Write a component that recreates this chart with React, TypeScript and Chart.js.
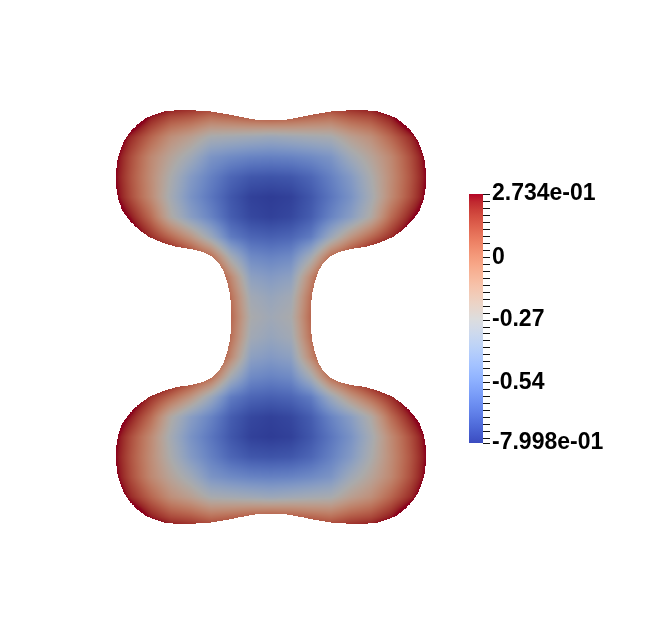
import React, { useEffect, useRef } from "react";
import { Chart, registerables } from "chart.js";

Chart.register(...registerables);

// ---------- data ----------
// Sample grid of the scalar field (domain units, 1 unit ~ 100 px)
const gridX = [-1.6, -1.4, -1.2, -1.0, -0.8, -0.6, -0.4, -0.2, 0, 0.2, 0.4, 0.6, 0.8, 1.0, 1.2, 1.4, 1.6];
const gridY = [2.2, 2.0, 1.8, 1.6, 1.4, 1.2, 1.0, 0.8, 0.6, 0.4, 0.2, 0.0, -0.2, -0.4, -0.6, -0.8, -1.0, -1.2, -1.4, -1.6, -1.8, -2.0, -2.2];
const fieldValues = [
  [0.85, 0.66, 0.54, 0.42, 0.38, 0.35, 0.35, 0.40, 0.40, 0.40, 0.35, 0.35, 0.38, 0.42, 0.54, 0.66, 0.85],
  [0.68, 0.45, 0.25, 0.14, 0.10, 0.03, 0.06, 0.10, 0.12, 0.10, 0.06, 0.03, 0.10, 0.14, 0.25, 0.45, 0.68],
  [0.43, 0.22, 0.06, -0.09, -0.17, -0.28, -0.30, -0.32, -0.34, -0.32, -0.30, -0.28, -0.17, -0.09, 0.06, 0.22, 0.43],
  [0.35, 0.13, -0.06, -0.20, -0.32, -0.47, -0.52, -0.55, -0.56, -0.55, -0.52, -0.47, -0.32, -0.20, -0.06, 0.13, 0.35],
  [0.33, 0.11, -0.08, -0.27, -0.44, -0.56, -0.66, -0.71, -0.72, -0.71, -0.66, -0.56, -0.44, -0.27, -0.08, 0.11, 0.33],
  [0.35, 0.13, -0.07, -0.30, -0.48, -0.60, -0.71, -0.78, -0.795, -0.78, -0.71, -0.60, -0.48, -0.30, -0.07, 0.13, 0.35],
  [0.43, 0.25, 0.04, -0.24, -0.42, -0.55, -0.69, -0.76, -0.78, -0.76, -0.69, -0.55, -0.42, -0.24, 0.04, 0.25, 0.43],
  [0.65, 0.40, 0.21, 0.05, -0.12, -0.34, -0.58, -0.66, -0.68, -0.66, -0.58, -0.34, -0.12, 0.05, 0.21, 0.40, 0.65],
  [0.90, 0.70, 0.50, 0.35, 0.22, 0.05, -0.30, -0.52, -0.55, -0.52, -0.30, 0.05, 0.22, 0.35, 0.50, 0.70, 0.90],
  [1.00, 0.90, 0.80, 0.60, 0.50, 0.31, -0.06, -0.40, -0.44, -0.40, -0.06, 0.31, 0.50, 0.60, 0.80, 0.90, 1.00],
  [1.00, 0.90, 0.80, 0.70, 0.60, 0.35, 0.03, -0.31, -0.36, -0.31, 0.03, 0.35, 0.60, 0.70, 0.80, 0.90, 1.00],
  [1.00, 0.90, 0.80, 0.70, 0.60, 0.35, 0.06, -0.27, -0.32, -0.27, 0.06, 0.35, 0.60, 0.70, 0.80, 0.90, 1.00],
  [1.00, 0.90, 0.80, 0.70, 0.60, 0.35, 0.03, -0.31, -0.36, -0.31, 0.03, 0.35, 0.60, 0.70, 0.80, 0.90, 1.00],
  [1.00, 0.90, 0.80, 0.60, 0.50, 0.31, -0.06, -0.40, -0.44, -0.40, -0.06, 0.31, 0.50, 0.60, 0.80, 0.90, 1.00],
  [0.90, 0.70, 0.50, 0.35, 0.22, 0.05, -0.30, -0.52, -0.55, -0.52, -0.30, 0.05, 0.22, 0.35, 0.50, 0.70, 0.90],
  [0.65, 0.40, 0.21, 0.05, -0.12, -0.34, -0.58, -0.66, -0.68, -0.66, -0.58, -0.34, -0.12, 0.05, 0.21, 0.40, 0.65],
  [0.43, 0.25, 0.04, -0.24, -0.42, -0.55, -0.69, -0.76, -0.78, -0.76, -0.69, -0.55, -0.42, -0.24, 0.04, 0.25, 0.43],
  [0.35, 0.13, -0.07, -0.30, -0.48, -0.60, -0.71, -0.78, -0.795, -0.78, -0.71, -0.60, -0.48, -0.30, -0.07, 0.13, 0.35],
  [0.33, 0.11, -0.08, -0.27, -0.44, -0.56, -0.66, -0.71, -0.72, -0.71, -0.66, -0.56, -0.44, -0.27, -0.08, 0.11, 0.33],
  [0.35, 0.13, -0.06, -0.20, -0.32, -0.47, -0.52, -0.55, -0.56, -0.55, -0.52, -0.47, -0.32, -0.20, -0.06, 0.13, 0.35],
  [0.43, 0.22, 0.06, -0.09, -0.17, -0.28, -0.30, -0.32, -0.34, -0.32, -0.30, -0.28, -0.17, -0.09, 0.06, 0.22, 0.43],
  [0.68, 0.45, 0.25, 0.14, 0.10, 0.03, 0.06, 0.10, 0.12, 0.10, 0.06, 0.03, 0.10, 0.14, 0.25, 0.45, 0.68],
  [0.85, 0.66, 0.54, 0.42, 0.38, 0.35, 0.35, 0.40, 0.40, 0.40, 0.35, 0.35, 0.38, 0.42, 0.54, 0.66, 0.85],
];

// Domain outline (closed loop)
const boundaryX = [
  0, 0.16, 0.30, 0.45, 0.60, 0.75, 0.90, 1.05, 1.15, 1.25, 1.33, 1.41, 1.47, 1.51, 1.54, 1.55, 1.55, 1.53, 1.49, 1.42, 1.33, 1.22, 1.08, 0.94, 0.80, 0.68, 0.60, 0.53, 0.48, 0.44, 0.41, 0.40, 0.40,
  0.40, 0.41, 0.44, 0.48, 0.53, 0.60, 0.68, 0.80, 0.94, 1.08, 1.22, 1.33, 1.42, 1.49, 1.53, 1.55, 1.55, 1.54, 1.51, 1.47, 1.41, 1.33, 1.25, 1.15, 1.05, 0.90, 0.75, 0.60, 0.45, 0.30, 0.16, 0,
  -0.16, -0.30, -0.45, -0.60, -0.75, -0.90, -1.05, -1.15, -1.25, -1.33, -1.41, -1.47, -1.51, -1.54, -1.55, -1.55, -1.53, -1.49, -1.42, -1.33, -1.22, -1.08, -0.94, -0.80, -0.68, -0.60, -0.53, -0.48, -0.44, -0.41, -0.40, -0.40,
  -0.40, -0.41, -0.44, -0.48, -0.53, -0.60, -0.68, -0.80, -0.94, -1.08, -1.22, -1.33, -1.42, -1.49, -1.53, -1.55, -1.55, -1.54, -1.51, -1.47, -1.41, -1.33, -1.25, -1.15, -1.05, -0.90, -0.75, -0.60, -0.45, -0.30, -0.16,
];
const boundaryY = [
  1.97, 1.975, 2.00, 2.03, 2.055, 2.065, 2.07, 2.06, 2.03, 1.99, 1.93, 1.85, 1.76, 1.66, 1.55, 1.42, 1.31, 1.19, 1.07, 0.97, 0.88, 0.80, 0.74, 0.70, 0.68, 0.65, 0.61, 0.55, 0.47, 0.36, 0.23, 0.11, 0,
  -0.11, -0.23, -0.36, -0.47, -0.55, -0.61, -0.65, -0.68, -0.70, -0.74, -0.80, -0.88, -0.97, -1.07, -1.19, -1.31, -1.42, -1.55, -1.66, -1.76, -1.85, -1.93, -1.99, -2.03, -2.06, -2.07, -2.065, -2.055, -2.03, -2.00, -1.975, -1.97,
  -1.975, -2.00, -2.03, -2.055, -2.065, -2.07, -2.06, -2.03, -1.99, -1.93, -1.85, -1.76, -1.66, -1.55, -1.42, -1.31, -1.19, -1.07, -0.97, -0.88, -0.80, -0.74, -0.70, -0.68, -0.65, -0.61, -0.55, -0.47, -0.36, -0.23, -0.11, 0,
  0.11, 0.23, 0.36, 0.47, 0.55, 0.61, 0.65, 0.68, 0.70, 0.74, 0.80, 0.88, 0.97, 1.07, 1.19, 1.31, 1.42, 1.55, 1.66, 1.76, 1.85, 1.93, 1.99, 2.03, 2.06, 2.07, 2.065, 2.055, 2.03, 2.00, 1.975,
];

// Colour bar
const rangeMin = -0.7998;
const rangeMax = 0.2734;
const majorTickValues = [0.2734, 0, -0.27, -0.54, -0.7998];
const majorTickLabels = ["2.734e-01", "0", "-0.27", "-0.54", "-7.998e-01"];
const minorTickStep = 0.03;

// ---------- styling ----------
const COOL_WARM = [
  [59, 76, 192], [68, 90, 204], [77, 104, 215], [87, 117, 225], [98, 130, 234], [108, 142, 241],
  [119, 154, 247], [130, 165, 251], [141, 176, 254], [152, 185, 255], [163, 194, 255], [174, 201, 253],
  [184, 208, 249], [194, 213, 244], [204, 217, 238], [213, 219, 230], [221, 221, 221], [229, 216, 209],
  [236, 211, 197], [241, 204, 185], [245, 196, 173], [247, 187, 160], [247, 177, 148], [247, 166, 135],
  [244, 154, 123], [241, 141, 111], [236, 127, 99], [229, 112, 88], [222, 96, 77], [213, 80, 66],
  [203, 62, 56], [192, 40, 47], [180, 4, 38],
];
const SHADE = 0.77;
const FONT_FAMILY = '"Liberation Sans", Arial, sans-serif';

function coolWarm(t: number): number[] {
  const tt = Math.max(0, Math.min(1, t));
  const n = COOL_WARM.length - 1;
  const f = tt * n;
  const i = Math.min(Math.floor(f), n - 1);
  const u = f - i;
  const a = COOL_WARM[i];
  const b = COOL_WARM[i + 1];
  return [a[0] + (b[0] - a[0]) * u, a[1] + (b[1] - a[1]) * u, a[2] + (b[2] - a[2]) * u];
}

function insideOutline(x: number, y: number): boolean {
  let inside = false;
  const n = boundaryX.length;
  for (let i = 0, j = n - 1; i < n; j = i++) {
    const xi = boundaryX[i], yi = boundaryY[i];
    const xj = boundaryX[j], yj = boundaryY[j];
    if ((yi > y) !== (yj > y) && x < ((xj - xi) * (y - yi)) / (yj - yi) + xi) inside = !inside;
  }
  return inside;
}

function fieldAt(xv: number, yv: number): number {
  const sx = gridX[1] - gridX[0];
  const sy = gridY[1] - gridY[0];
  const fx = (xv - gridX[0]) / sx;
  const fy = (yv - gridY[0]) / sy;
  let c = Math.floor(fx);
  let r = Math.floor(fy);
  c = Math.max(0, Math.min(gridX.length - 2, c));
  r = Math.max(0, Math.min(gridY.length - 2, r));
  const u = Math.max(0, Math.min(1, fx - c));
  const v = Math.max(0, Math.min(1, fy - r));
  const a = fieldValues[r][c], b = fieldValues[r][c + 1];
  const d = fieldValues[r + 1][c], e = fieldValues[r + 1][c + 1];
  return a * (1 - u) * (1 - v) + b * u * (1 - v) + d * (1 - u) * v + e * u * v;
}

const fieldPlugin = {
  id: "fieldPlot",
  beforeDatasetsDraw(chart: any) {
    const xs = chart.scales.x;
    const ys = chart.scales.y;
    const ctx = chart.ctx;
    const dpr = chart.currentDevicePixelRatio || 1;
    let minPx = Infinity, maxPx = -Infinity, minPy = Infinity, maxPy = -Infinity;
    for (let i = 0; i < boundaryX.length; i++) {
      const px = xs.getPixelForValue(boundaryX[i]);
      const py = ys.getPixelForValue(boundaryY[i]);
      minPx = Math.min(minPx, px); maxPx = Math.max(maxPx, px);
      minPy = Math.min(minPy, py); maxPy = Math.max(maxPy, py);
    }
    const x0 = Math.floor(minPx) - 1, y0 = Math.floor(minPy) - 1;
    const W = Math.ceil(maxPx) + 2 - x0, H = Math.ceil(maxPy) + 2 - y0;
    const off = document.createElement("canvas");
    off.width = Math.round(W * dpr);
    off.height = Math.round(H * dpr);
    const octx = off.getContext("2d")!;
    const img = octx.createImageData(off.width, off.height);
    const span = rangeMax - rangeMin;
    for (let j = 0; j < off.height; j++) {
      const yv = ys.getValueForPixel(y0 + (j + 0.5) / dpr);
      for (let i = 0; i < off.width; i++) {
        const xv = xs.getValueForPixel(x0 + (i + 0.5) / dpr);
        if (!insideOutline(xv, yv)) continue;
        const val = fieldAt(xv, yv);
        const col = coolWarm((val - rangeMin) / span);
        const k = (j * off.width + i) * 4;
        img.data[k] = Math.round(col[0] * SHADE);
        img.data[k + 1] = Math.round(col[1] * SHADE);
        img.data[k + 2] = Math.round(col[2] * SHADE);
        img.data[k + 3] = 255;
      }
    }
    octx.putImageData(img, 0, 0);
    ctx.save();
    ctx.imageSmoothingEnabled = false;
    ctx.drawImage(off, x0, y0, W, H);
    ctx.restore();
  },
};

function buildTickList(): number[] {
  const list: number[] = [...majorTickValues];
  const kMin = Math.ceil(rangeMin / minorTickStep);
  const kMax = Math.floor(rangeMax / minorTickStep);
  for (let k = kMin; k <= kMax; k++) {
    const v = Math.round(k * minorTickStep * 1000) / 1000;
    if (!list.some((m) => Math.abs(m - v) < 1e-6)) list.push(v);
  }
  return list.sort((a, b) => a - b);
}

export default function App() {
  const mainRef = useRef<HTMLCanvasElement>(null);
  const barRef = useRef<HTMLCanvasElement>(null);

  useEffect(() => {
    const points = boundaryX.map((x, i) => ({ x, y: boundaryY[i] }));
    const main = new Chart(mainRef.current!, {
      type: "scatter",
      data: {
        datasets: [
          {
            data: points,
            pointRadius: 0,
            showLine: false,
            borderWidth: 0,
          },
        ],
      },
      options: {
        animation: false,
        responsive: false,
        maintainAspectRatio: false,
        events: [],
        layout: { padding: 0 },
        plugins: { legend: { display: false }, tooltip: { enabled: false } },
        scales: {
          x: { type: "linear", min: -2.71, max: 3.99, display: false },
          y: { type: "linear", min: -3.21, max: 3.17, display: false },
        },
      },
      plugins: [fieldPlugin],
    } as any);

    const tickList = buildTickList();
    const bar = new Chart(barRef.current!, {
      type: "bar",
      data: {
        labels: [""],
        datasets: [
          {
            data: [[rangeMin, rangeMax]],
            borderWidth: 0,
            barPercentage: 1,
            categoryPercentage: 1,
            backgroundColor: (c: any) => {
              const ch = c.chart;
              const ys = ch.scales && ch.scales.y;
              if (!ch.chartArea || !ys) return "#888";
              const g = ch.ctx.createLinearGradient(0, ys.getPixelForValue(rangeMin), 0, ys.getPixelForValue(rangeMax));
              const n = COOL_WARM.length - 1;
              COOL_WARM.forEach((col, i) => g.addColorStop(i / n, `rgb(${col[0]},${col[1]},${col[2]})`));
              return g;
            },
          },
        ],
      },
      options: {
        animation: false,
        responsive: false,
        maintainAspectRatio: false,
        events: [],
        layout: { padding: { left: 9, top: 24, bottom: 27, right: 0 } },
        plugins: { legend: { display: false }, tooltip: { enabled: false } },
        scales: {
          x: { display: false },
          y: {
            position: "right",
            min: rangeMin,
            max: rangeMax,
            afterBuildTicks: (s: any) => {
              s.ticks = tickList.map((v) => ({ value: v }));
            },
            afterFit: (s: any) => {
              s.width = 177;
            },
            ticks: {
              autoSkip: false,
              padding: 2,
              color: "#000",
              font: { family: FONT_FAMILY, size: 23, weight: "bold" },
              callback: (v: any) => {
                const idx = majorTickValues.findIndex((m) => Math.abs(m - Number(v)) < 1e-6);
                return idx >= 0 ? majorTickLabels[idx] : "";
              },
            },
            grid: {
              display: true,
              drawOnChartArea: false,
              drawTicks: true,
              tickLength: 7,
              color: "#111",
              tickColor: "#111",
            },
            border: { display: false },
          },
        },
      },
    } as any);

    return () => {
      main.destroy();
      bar.destroy();
    };
  }, []);

  return (
    <div style={{ position: "absolute", left: 0, top: 0, width: 670, height: 638, background: "#fff" }}>
      <canvas ref={mainRef} width={670} height={638} style={{ position: "absolute", left: 0, top: 0, width: 670, height: 638 }} />
      <canvas ref={barRef} width={200} height={300} style={{ position: "absolute", left: 460, top: 170, width: 200, height: 300 }} />
    </div>
  );
}
